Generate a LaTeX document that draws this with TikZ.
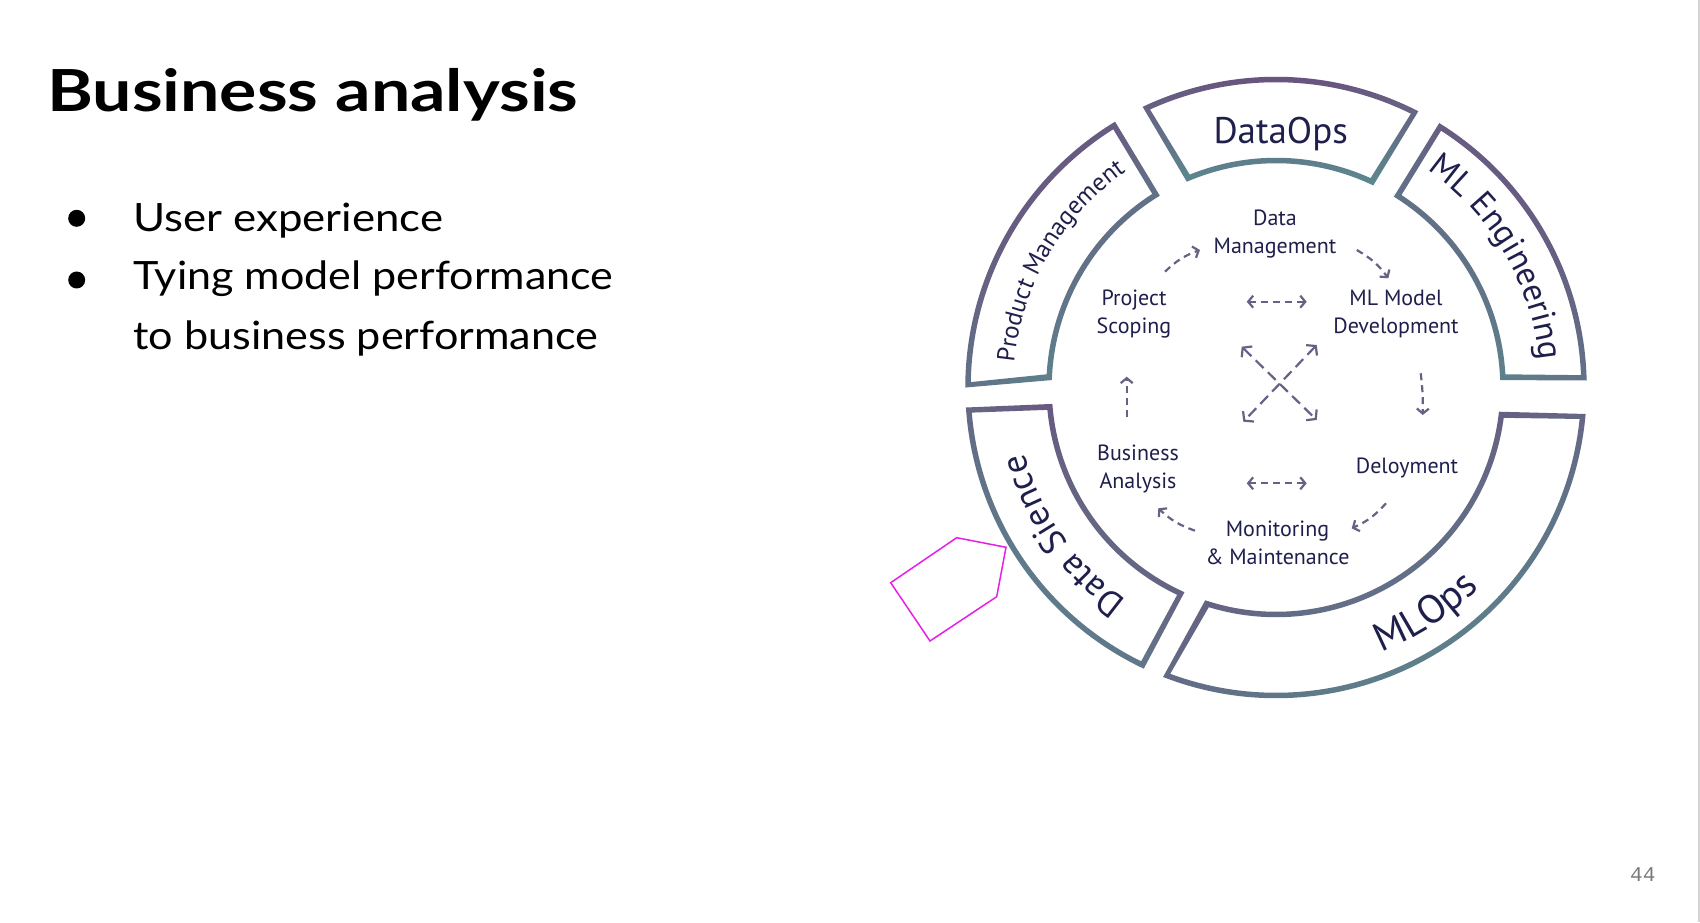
\documentclass[tikz,border=0pt]{standalone}
\usepackage{fontspec}
\usepackage{graphicx}
\usetikzlibrary{arrows.meta,decorations.text}
\setmainfont{Lato}
\newfontfamily\diafont{PT Sans}
\newfontfamily\pagefont{Liberation Mono}

\definecolor{segA}{HTML}{6B4D7D}
\definecolor{segB}{HTML}{5B8A8E}
\definecolor{labc}{HTML}{1F1F4D}
\definecolor{arrc}{HTML}{656285}
\definecolor{marker}{HTML}{E61EE6}
\definecolor{pagec}{HTML}{7A7A7A}
\definecolor{edgec}{HTML}{D4D4D4}

% one ring segment: outer start, inner start, outer end, inner end, shading angle
\newcommand\ringseg[5]{%
  \shade[even odd rule, left color=segA, right color=segB, shading angle=#5]
    ({#1-0.51}:310.75) arc[start angle={#1-0.51}, end angle={#3+0.51}, radius=310.75]
    -- ({#4+0.70}:224.25) arc[start angle={#4+0.70}, end angle={#2-0.70}, radius=224.25] -- cycle
    ({#1+0.52}:305.25) arc[start angle={#1+0.52}, end angle={#3-0.52}, radius=305.25]
    -- ({#4-0.69}:229.75) arc[start angle={#4-0.69}, end angle={#2+0.69}, radius=229.75] -- cycle;}

\tikzset{
  lab/.style={font=\diafont\fontsize{22}{28}\selectfont, text=labc, align=center, inner sep=0pt},
  flow/.style={draw=arrc, line width=2.2pt, dash pattern=on 7pt off 5pt,
    -{Straight Barb[length=5pt,width=12pt]}},
  flow2/.style={draw=arrc, line width=2.2pt, dash pattern=on 7pt off 5pt,
    {Straight Barb[length=5pt,width=12pt]}-{Straight Barb[length=5pt,width=12pt]}},
  cross/.style={draw=arrc, line width=2.2pt, dash pattern=on 11pt off 6pt,
    {Straight Barb[length=6pt,width=15pt]}-{Straight Barb[length=6pt,width=15pt]}},
  bullet/.style={circle, fill=black, minimum size=17pt, inner sep=0pt},
  bodytext/.style={anchor=base west, inner sep=0pt, font=\fontsize{39}{40}\selectfont},
}

\begin{document}
\begin{tikzpicture}[x=1pt,y=1pt]
\useasboundingbox (0,0) rectangle (1700,922);
\fill[white] (0,0) rectangle (1700,922);
\fill[edgec] (1698,0) rectangle (1700,922);

% slide title and bullets
\node[anchor=base west, inner sep=0pt, font=\bfseries\fontsize{58}{60}\selectfont] (title) at (47,810.3)
  {\resizebox{531pt}{\height}{Business analysis}};
\node[bullet] (b1) at (76.7,703.7) {};
\node[bullet] (b2) at (76.7,642) {};
\node[bodytext] (t1) at (133,690.3) {\resizebox{310pt}{\height}{User experience}};
\node[bodytext] (t2) at (133,632) {\resizebox{480pt}{\height}{Tying model performance}};
\node[bodytext] (t3) at (133,572) {\resizebox{465pt}{\height}{to business performance}};

% ring of five segments
\begin{scope}[shift={(1276,534.5)}]
  \ringseg{121.7}{121.9}{179.5}{177.4}{45}
  \ringseg{63.25}{65.0}{114.9}{112.75}{0}
  \ringseg{1.8}{2.6}{57.8}{57.6}{-45}
  \ringseg{-110.8}{-107.7}{-5.4}{-6.9}{30}
  \ringseg{184.2}{184.9}{244.3}{245.2}{-45}

  \path[decorate, decoration={text along path, text align=center,
      text={|\diafont\fontsize{25}{25}\selectfont\color{labc}|Product Management}}]
    (179.7:263) arc[start angle=179.7, end angle=119.7, radius=263];
  \path[decorate, decoration={text along path, text align=center,
      text={|\diafont\fontsize{34}{34}\selectfont\color{labc}|ML Engineering}}]
    (62:265) arc[start angle=62, end angle=-1, radius=265];
  \path[decorate, decoration={text along path, text align=center,
      text={|\diafont\fontsize{36}{36}\selectfont\color{labc}|Data Sience}}]
    (244.75:260) arc[start angle=244.75, end angle=184.75, radius=260];
  \path[decorate, decoration={text along path, text align=center,
      text={|\diafont\fontsize{40}{40}\selectfont\color{labc}|MLOps}}]
    (-86.4:285) arc[start angle=-86.4, end angle=-26.4, radius=285];
\end{scope}
\node[anchor=base, inner sep=0pt, font=\diafont\fontsize{37}{37}\selectfont, text=labc]
  (dataops) at (1280.7,778.7) {DataOps};

% lifecycle stages
\node[lab] (dm) at (1275,688) {Data\\Management};
\node[lab] (ps) at (1134,608) {Project\\Scoping};
\node[lab] (mlm) at (1396,608) {ML Model\\Development};
\node[lab] (ba) at (1138,453) {Business\\Analysis};
\node[lab] (dep) at (1407,454) {Deloyment};
\node[lab] (mon) at (1277.5,379.5) {Monitoring\\\& Maintenance};

% arrow end points
\coordinate (a1s) at (1165,650.3);   \coordinate (a1e) at (1200,672);
\coordinate (a2s) at (1356.7,672);   \coordinate (a2e) at (1388.3,643.7);
\coordinate (a3s) at (1420.7,548.7); \coordinate (a3e) at (1422.7,507);
\coordinate (a4s) at (1386,418.7);   \coordinate (a4e) at (1351.7,393.7);
\coordinate (a5s) at (1195,391.3);   \coordinate (a5e) at (1158.3,413.7);
\coordinate (a6s) at (1126.7,505.3); \coordinate (a6e) at (1126.7,545.3);
\coordinate (h1l) at (1246.7,620.3); \coordinate (h1r) at (1306.7,620.3);
\coordinate (h2l) at (1246.7,438.7); \coordinate (h2r) at (1306.7,438.7);
\coordinate (d1a) at (1241.7,575.3); \coordinate (d1b) at (1316.7,502);
\coordinate (d2a) at (1316.7,577);   \coordinate (d2b) at (1243.3,500.3);

\draw[flow] (a1s) to[bend left=12] (a1e);
\draw[flow] (a2s) to[bend left=12] (a2e);
\draw[flow] (a3s) to[bend left=4] (a3e);
\draw[flow] (a4s) to[bend left=12] (a4e);
\draw[flow] (a5s) to[bend left=12] (a5e);
\draw[flow] (a6s) -- (a6e);
\draw[flow2] (h1l) -- (h1r);
\draw[flow2] (h2l) -- (h2r);
\draw[cross] (d1a) -- (d1b);
\draw[cross] (d2a) -- (d2b);

% marker outline beside the ring
\draw[marker, line width=1.5pt, line join=miter]
  (956.7,384.3) -- (1006,374.7) -- (996.7,325.3) -- (930,281) -- (890.7,339.3) -- cycle;

% page number
\node[anchor=base west, inner sep=0pt, font=\pagefont\fontsize{21}{21}\selectfont, text=pagec] (pg) at (1630,40.3) {44};
\end{tikzpicture}
\end{document}
